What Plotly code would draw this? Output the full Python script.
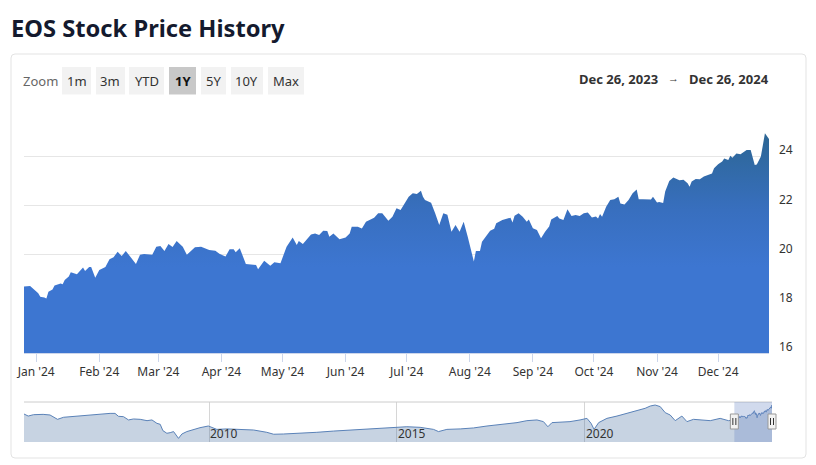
import plotly.graph_objects as go

W, H = 816, 465


def px(x):
    return x / W


def py(y):
    return (H - y) / H


# ---------------- data ----------------
dates = [
    "2023-12-26", "2023-12-29", "2024-01-02", "2024-01-03", "2024-01-05", "2024-01-06",
    "2024-01-07", "2024-01-09", "2024-01-10", "2024-01-13", "2024-01-14", "2024-01-15",
    "2024-01-17", "2024-01-18", "2024-01-21", "2024-01-24", "2024-01-25", "2024-01-27",
    "2024-01-28", "2024-01-30", "2024-02-01", "2024-02-04", "2024-02-06", "2024-02-08",
    "2024-02-10", "2024-02-12", "2024-02-14", "2024-02-15", "2024-02-17", "2024-02-19",
    "2024-02-21", "2024-02-23", "2024-02-27", "2024-02-29", "2024-03-02", "2024-03-04",
    "2024-03-06", "2024-03-08", "2024-03-10", "2024-03-13", "2024-03-15", "2024-03-19",
    "2024-03-22", "2024-03-26", "2024-03-29", "2024-03-31", "2024-04-03", "2024-04-05",
    "2024-04-07", "2024-04-08", "2024-04-10", "2024-04-13", "2024-04-18", "2024-04-19",
    "2024-04-22", "2024-04-25", "2024-04-27", "2024-04-30", "2024-05-03", "2024-05-06",
    "2024-05-08", "2024-05-09", "2024-05-11", "2024-05-15", "2024-05-17", "2024-05-19",
    "2024-05-21", "2024-05-23", "2024-05-24", "2024-05-26", "2024-05-29", "2024-06-01",
    "2024-06-03", "2024-06-04", "2024-06-07", "2024-06-09", "2024-06-11", "2024-06-13",
    "2024-06-15", "2024-06-17", "2024-06-19", "2024-06-22", "2024-06-24", "2024-06-26",
    "2024-06-28", "2024-06-29", "2024-07-02", "2024-07-04", "2024-07-06", "2024-07-08",
    "2024-07-09", "2024-07-10", "2024-07-13", "2024-07-15", "2024-07-17", "2024-07-19",
    "2024-07-21", "2024-07-23", "2024-07-25", "2024-07-27", "2024-07-29", "2024-07-31",
    "2024-08-03", "2024-08-04", "2024-08-06", "2024-08-07", "2024-08-09", "2024-08-11",
    "2024-08-13", "2024-08-14", "2024-08-17", "2024-08-19", "2024-08-21", "2024-08-22",
    "2024-08-23", "2024-08-25", "2024-08-27", "2024-08-29", "2024-08-30", "2024-09-01",
    "2024-09-03", "2024-09-05", "2024-09-07", "2024-09-09", "2024-09-10", "2024-09-13",
    "2024-09-14", "2024-09-16", "2024-09-18", "2024-09-20", "2024-09-22", "2024-09-24",
    "2024-09-26", "2024-09-28", "2024-09-30", "2024-10-02", "2024-10-03", "2024-10-04",
    "2024-10-05", "2024-10-07", "2024-10-09", "2024-10-11", "2024-10-13", "2024-10-14",
    "2024-10-16", "2024-10-18", "2024-10-20", "2024-10-22", "2024-10-23", "2024-10-25",
    "2024-10-29", "2024-10-30", "2024-11-01", "2024-11-02", "2024-11-04", "2024-11-05",
    "2024-11-07", "2024-11-09", "2024-11-11", "2024-11-12", "2024-11-14", "2024-11-16",
    "2024-11-17", "2024-11-18", "2024-11-20", "2024-11-22", "2024-11-24", "2024-11-26",
    "2024-11-28", "2024-11-29", "2024-12-01", "2024-12-03", "2024-12-04", "2024-12-06",
    "2024-12-07", "2024-12-08", "2024-12-10", "2024-12-12", "2024-12-13", "2024-12-15",
    "2024-12-17", "2024-12-18", "2024-12-19", "2024-12-20", "2024-12-22", "2024-12-23",
    "2024-12-24", "2024-12-26",
]
prices = [
    18.70, 18.72, 18.43, 18.29, 18.26, 18.22,
    18.49, 18.58, 18.74, 18.83, 18.79, 18.97,
    19.11, 19.28, 19.20, 19.48, 19.33, 19.50,
    19.50, 19.06, 19.37, 19.50, 19.81, 19.89,
    20.12, 19.94, 20.15, 20.05, 19.81, 19.62,
    19.99, 20.02, 19.99, 20.32, 20.35, 20.15,
    20.43, 20.31, 20.55, 20.32, 19.99, 20.30,
    20.32, 20.19, 20.16, 20.03, 19.92, 20.22,
    20.22, 20.10, 20.26, 19.62, 19.58, 19.40,
    19.75, 19.55, 19.69, 19.65, 20.32, 20.70,
    20.39, 20.55, 20.43, 20.82, 20.86, 20.80,
    20.97, 20.96, 20.73, 20.86, 20.62, 20.70,
    20.86, 21.13, 21.13, 21.06, 21.34, 21.43,
    21.50, 21.68, 21.68, 21.38, 21.54, 21.88,
    21.81, 21.95, 22.35, 22.49, 22.46, 22.60,
    22.35, 22.22, 22.11, 21.68, 21.20, 21.68,
    21.62, 20.93, 21.20, 20.93, 21.34, 20.73,
    19.72, 20.15, 20.15, 20.52, 20.73, 20.97,
    21.05, 21.27, 21.41, 21.46, 21.50, 21.30,
    21.58, 21.68, 21.54, 21.34, 21.43, 21.07,
    21.00, 20.66, 20.93, 21.14, 21.43, 21.57,
    21.47, 21.41, 21.84, 21.57, 21.61, 21.57,
    21.68, 21.71, 21.51, 21.55, 21.47, 21.65,
    21.54, 21.95, 22.22, 22.25, 22.35, 22.08,
    22.04, 22.22, 22.49, 22.65, 22.25, 22.25,
    22.24, 22.35, 22.12, 22.14, 22.10, 22.56,
    22.99, 23.13, 23.04, 23.02, 23.04, 22.90,
    22.76, 22.97, 23.07, 23.06, 23.17, 23.24,
    23.30, 23.51, 23.67, 23.78, 23.91, 23.85,
    24.02, 23.94, 24.11, 24.08, 24.13, 24.25,
    24.25, 23.90, 23.64, 23.66, 23.99, 24.46,
    24.93, 24.70,
]

# long history shown in the navigator (before the selected year)
hist_dates = [
    "2005-01-28", "2005-03-10", "2005-05-01", "2005-08-02", "2005-10-08", "2005-12-20",
    "2006-02-17", "2006-05-23", "2006-08-28", "2006-12-02", "2007-02-06", "2007-05-15",
    "2007-07-02", "2007-08-04", "2007-09-22", "2007-11-10", "2007-12-28", "2008-03-03",
    "2008-05-08", "2008-06-25", "2008-08-12", "2008-09-13", "2008-10-09", "2008-11-17",
    "2008-12-19", "2009-01-21", "2009-03-10", "2009-04-12", "2009-05-30", "2009-08-04",
    "2009-10-05", "2009-12-25", "2010-03-18", "2010-06-23", "2010-10-31", "2011-03-10",
    "2011-07-16", "2011-09-21", "2011-12-25", "2012-06-06", "2012-11-14", "2013-04-23",
    "2013-10-04", "2014-03-14", "2014-08-22", "2015-01-01", "2015-04-08", "2015-08-15",
    "2015-12-23", "2016-02-10", "2016-05-01", "2016-09-08", "2017-01-15", "2017-05-26",
    "2017-10-02", "2018-01-08", "2018-03-14", "2018-06-18", "2018-09-24", "2018-11-26",
    "2019-01-08", "2019-02-17", "2019-05-08", "2019-08-11", "2019-11-17", "2020-01-23",
    "2020-03-03", "2020-04-01", "2020-05-16", "2020-08-04", "2020-11-10", "2021-02-14",
    "2021-05-22", "2021-08-11", "2021-09-30", "2021-11-16", "2022-01-04", "2022-02-22",
    "2022-04-11", "2022-05-30", "2022-08-03", "2022-09-21", "2022-11-24", "2023-02-13",
    "2023-05-06", "2023-08-10", "2023-10-30",
]
hist_prices = [
    21.25, 20.40, 20.97, 21.10, 20.84, 19.05,
    19.90, 20.30, 20.40, 21.00, 21.10, 21.50,
    21.50, 20.30, 20.15, 18.80, 19.20, 19.05,
    18.50, 18.80, 17.40, 17.00, 14.40, 13.30,
    13.55, 14.00, 11.20, 13.00, 14.00, 14.90,
    15.60, 16.30, 14.90, 15.10, 14.90, 14.65,
    13.70, 12.90, 13.00, 13.30, 13.70, 14.20,
    14.65, 15.10, 15.60, 16.00, 16.00, 15.75,
    14.90, 14.00, 14.90, 15.10, 15.50, 16.30,
    16.85, 17.40, 17.70, 18.50, 18.80, 18.10,
    16.00, 17.70, 17.95, 18.10, 18.80, 19.45,
    17.40, 14.90, 17.70, 19.45, 20.40, 21.50,
    22.60, 23.60, 24.55, 24.95, 24.30, 21.80,
    20.84, 18.50, 20.40, 18.10, 19.05, 18.80,
    18.50, 19.45, 18.50,
]

month_ticks = ["2024-01-01", "2024-02-01", "2024-03-01", "2024-04-01", "2024-05-01", "2024-06-01",
               "2024-07-01", "2024-08-01", "2024-09-01", "2024-10-01", "2024-11-01", "2024-12-01"]
month_labels = ["Jan '24", "Feb '24", "Mar '24", "Apr '24", "May '24", "Jun '24",
                "Jul '24", "Aug '24", "Sep '24", "Oct '24", "Nov '24", "Dec '24"]
price_ticks = [16, 18, 20, 22, 24, 26]
price_labels = ["16", "18", "20", "22", "24", ""]
year_ticks = ["2010-01-01", "2015-01-01", "2020-01-01"]
year_labels = ["2010", "2015", "2020"]
zoom_buttons = ["1m", "3m", "YTD", "1Y", "5Y", "10Y", "Max"]
selected_button = "1Y"
title_text = "EOS Stock Price History"
range_from = "Dec 26, 2023"
range_to = "Dec 26, 2024"

# ---------------- styling / layout ----------------
FONT = "Noto Sans"
button_px = [(62, 91), (96, 125), (129, 164), (169, 196), (201, 226), (231, 263), (268, 304)]

nav_dates = hist_dates + dates
nav_prices = hist_prices + prices

fig = go.Figure()

fig.add_trace(go.Scatter(
    x=dates, y=prices, mode="lines",
    line=dict(width=0, color="#2f69a0"),
    fill="tozeroy",
    fillgradient=dict(type="vertical", start=19.5, stop=25.2,
                      colorscale=[[0, "#3d76d1"], [0.4, "#386fbf"], [1, "#2b6590"]]),
    hoverinfo="skip", xaxis="x", yaxis="y",
))

fig.add_trace(go.Scatter(
    x=nav_dates, y=nav_prices, mode="lines",
    line=dict(width=1, color="#5a82b8"),
    fill="tozeroy", fillcolor="rgba(70,110,160,0.3)",
    hoverinfo="skip", xaxis="x2", yaxis="y2",
))

shapes = []
annotations = []

# card border with rounded corners
x0, y0, x1, y1, r = px(11), py(54), px(806), py(458), 4
rx, ry = r / W, r / H
card_path = (
    f"M {x0+rx},{y0} L {x1-rx},{y0} Q {x1},{y0} {x1},{y0-ry} "
    f"L {x1},{y1+ry} Q {x1},{y1} {x1-rx},{y1} "
    f"L {x0+rx},{y1} Q {x0},{y1} {x0},{y1+ry} "
    f"L {x0},{y0-ry} Q {x0},{y0} {x0+rx},{y0} Z"
)
shapes.append(dict(type="path", path=card_path, xref="paper", yref="paper",
                   line=dict(color="#e3e3e3", width=1), fillcolor="rgba(0,0,0,0)", layer="below"))

# zoom buttons
for label, (bx0, bx1) in zip(zoom_buttons, button_px):
    sel = label == selected_button
    shapes.append(dict(type="rect", xref="paper", yref="paper",
                       x0=px(bx0), x1=px(bx1), y0=py(94.5), y1=py(67),
                       fillcolor="#c8c8c8" if sel else "#f2f2f2", line=dict(width=0), layer="below"))
    annotations.append(dict(x=px((bx0 + bx1) / 2), y=py(81), xref="paper", yref="paper",
                            text=f"<b>{label}</b>" if sel else label, showarrow=False,
                            xanchor="center", yanchor="middle",
                            font=dict(family=FONT, size=13, color="#111111" if sel else "#333333")))

annotations.append(dict(x=px(21), y=py(81), xref="paper", yref="paper", text="Zoom",
                        showarrow=False, xanchor="left", yanchor="middle",
                        font=dict(family=FONT, size=13, color="#666666")))
# date range: "from", arrow, "to"
annotations.append(dict(x=px(771), y=py(78.5), xref="paper", yref="paper", text=f"<b>{range_to}</b>",
                        showarrow=False, xanchor="right", yanchor="middle",
                        font=dict(family=FONT, size=13, color="#333333")))
annotations.append(dict(x=px(673.5), y=py(78), xref="paper", yref="paper", text="\u2192",
                        showarrow=False, xanchor="center", yanchor="middle",
                        font=dict(family=FONT, size=11, color="#333333")))
annotations.append(dict(x=px(660), y=py(78.5), xref="paper", yref="paper", text=f"<b>{range_from}</b>",
                        showarrow=False, xanchor="right", yanchor="middle",
                        font=dict(family=FONT, size=13, color="#333333")))
annotations.append(dict(x=px(9), y=py(28), xref="paper", yref="paper", text=f"<b>{title_text}</b>",
                        showarrow=False, xanchor="left", yanchor="middle",
                        font=dict(family=FONT, size=23.7, color="#141a2e")))

# navigator year labels, to the right of their grid lines
for d, t in zip(year_ticks, year_labels):
    annotations.append(dict(x=d, y=py(433), xref="x2", yref="paper", text=t, showarrow=False,
                            xanchor="left", yanchor="middle", xshift=-1,
                            font=dict(family=FONT, size=12, color="#333333")))

# navigator: top outline, selection mask, handles
shapes.append(dict(type="line", xref="paper", yref="paper", x0=px(24), x1=px(772),
                   y0=py(402), y1=py(402), line=dict(color="#cccccc", width=1)))
shapes.append(dict(type="rect", xref="x2", yref="paper", x0=dates[0], x1=dates[-1],
                   y0=py(442), y1=py(402), fillcolor="rgba(102,133,194,0.3)",
                   line=dict(width=0), layer="above"))
# handle anchors: selection start (data date) and navigator right edge (end of range)
handle_refs = [("x2", dates[0]), ("paper", px(772))]
for xr, anchor in handle_refs:
    shapes.append(dict(type="rect", xref=xr, yref="paper", xsizemode="pixel", xanchor=anchor,
                       x0=-4, x1=4, y0=py(429), y1=py(414),
                       fillcolor="#f2f2f2", line=dict(color="#999999", width=1), layer="above"))
    for off in (-1.5, 1.5):
        shapes.append(dict(type="line", xref=xr, yref="paper", xsizemode="pixel", xanchor=anchor,
                           x0=off, x1=off, y0=py(425), y1=py(418),
                           line=dict(color="#333333", width=1), layer="above"))

fig.update_layout(
    width=W, height=H,
    margin=dict(l=0, r=0, t=0, b=0, autoexpand=False),
    paper_bgcolor="white", plot_bgcolor="white",
    showlegend=False,
    font=dict(family=FONT, size=12, color="#333333"),
    shapes=shapes, annotations=annotations,
    xaxis=dict(
        domain=[px(24), px(769)], anchor="y",
        range=[dates[0], dates[-1]],
        tickmode="array", tickvals=month_ticks, ticktext=month_labels,
        ticks="outside", ticklen=8, tickcolor="#ccd6eb", tickwidth=1,
        showline=True, linecolor="#ccd6eb", linewidth=1,
        showgrid=False, zeroline=False,
        tickfont=dict(family=FONT, size=12, color="#333333"),
        fixedrange=True,
    ),
    yaxis=dict(
        domain=[py(353), py(107)], anchor="x", side="right",
        range=[16, 26],
        tickmode="array", tickvals=price_ticks, ticktext=price_labels,
        showgrid=True, gridcolor="#e6e6e6", gridwidth=1,
        zeroline=False, showline=False, ticks="",
        ticklabelstandoff=9, ticklabelshift=-6,
        tickfont=dict(family=FONT, size=12, color="#333333"),
        fixedrange=True,
    ),
    xaxis2=dict(
        domain=[px(24), px(772)], anchor="y2",
        range=[nav_dates[0], nav_dates[-1]],
        tickmode="array", tickvals=year_ticks, ticktext=["", "", ""],
        showgrid=True, gridcolor="#d6d6d6", gridwidth=1,
        zeroline=False, showline=False, ticks="",
        fixedrange=True,
    ),
    yaxis2=dict(
        domain=[py(442), py(402)], anchor="x2",
        range=[9.7, 26.2], visible=False, fixedrange=True,
    ),
)

fig.write_html("out.html", config={"displayModeBar": False},
               post_script="document.body.style.margin='0';document.body.style.overflow='hidden';")
